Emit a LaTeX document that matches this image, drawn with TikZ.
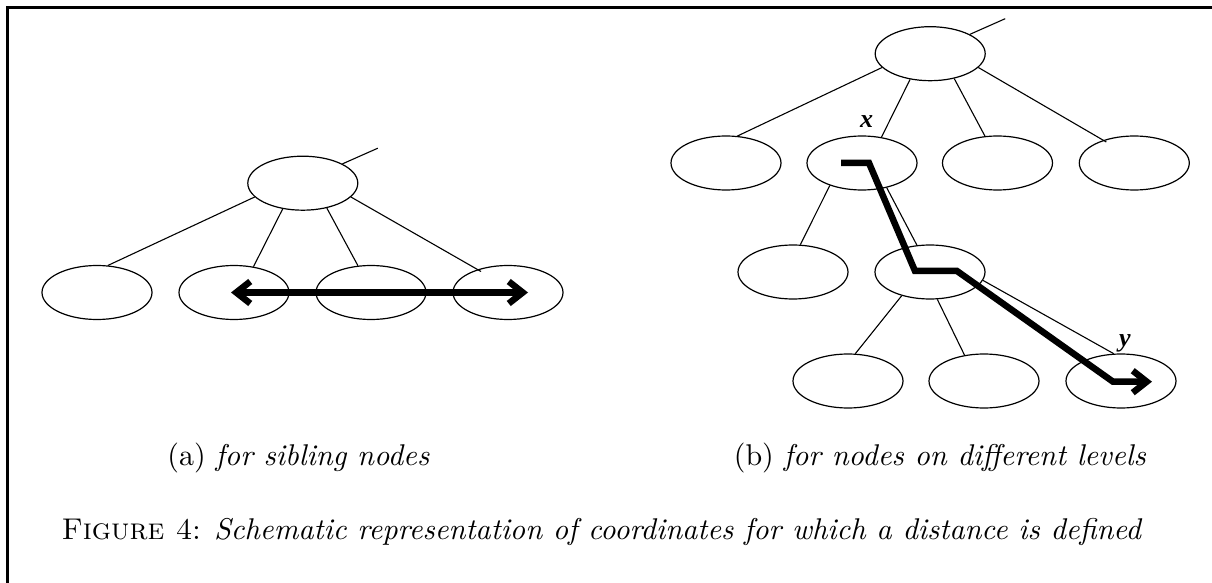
\documentclass[tikz,border=0pt]{standalone}
\usepackage{fontspec}
\newfontfamily\labelfont{Liberation Serif}
\usetikzlibrary{shapes.geometric,arrows.meta,calc}

\tikzset{
  tnode/.style={draw, ellipse, line width=0.6pt, minimum width=55pt, minimum height=27pt, inner sep=0pt},
  edge/.style={line width=0.55pt},
  route/.style={line width=3.25pt, line join=miter, line cap=butt},
  barb/.tip={Straight Barb[length=7pt, width=11pt, line cap=butt, line join=miter]},
  caption/.style={anchor=base, inner sep=0pt, font=\fontsize{10}{12}\selectfont, scale=1.5, transform shape},
  lbl/.style={anchor=base, inner sep=0pt, font=\labelfont\fontsize{13}{15}\selectfont\bfseries\itshape}
}

\begin{document}
\begin{tikzpicture}[x=0.5pt, y=-0.5pt]
\useasboundingbox (0,0) rectangle (1212,583);

% frame
\draw[line width=1.35pt] (1212,7.3) -- (7.3,7.3) -- (7.3,583);

% ---- (a) siblings ----
\node[tnode] (A0) at (302.8,183.2) {};
\node[tnode] (A1) at (97,292.5) {};
\node[tnode] (A2) at (234,292.5) {};
\node[tnode] (A3) at (371,292.5) {};
\node[tnode] (A4) at (508,292.5) {};
\coordinate (Aup) at ($(A0.center)+(75,-35)$);

\draw[edge] (A0.26.5) -- (Aup);
\draw[edge] (A0.196.4) -- (A1.68);
\draw[edge] (A0.232.5) -- (A2.53.6);
\draw[edge] (A0.314.7) -- (A3.116.5);
\draw[edge] (A0.344.3) -- ($(A4.center)+(-27,-21)$);

\draw[route, barb-barb] ($(A2.center)+(-3,0)$) -- ($(A4.center)+(20,0)$);

% ---- (b) different levels ----
\node[tnode] (B0) at (930.2,53.7) {};
\node[tnode] (B1) at (726,163) {};
\node[tnode] (B2) at (862,163) {};
\node[tnode] (B3) at (997.5,163) {};
\node[tnode] (B4) at (1134.3,163) {};
\node[tnode] (B21) at (793,272) {};
\node[tnode] (B22) at (930,272) {};
\node[tnode] (B31) at (848,381) {};
\node[tnode] (B32) at (984,381) {};
\node[tnode] (B33) at (1121,381) {};
\coordinate (Bup) at ($(B0.center)+(75,-35)$);

\draw[edge] (B0.26.5) -- (Bup);
\draw[edge] (B0.196.8) -- (B1.67.5);
\draw[edge] (B0.232.6) -- (B2.53.1);
\draw[edge] (B0.314) -- (B3.115.1);
\draw[edge] (B0.344.3) -- ($(B4.center)+(-28,-21)$);
\draw[edge] (B2.215.3) -- (B21.75.5);
\draw[edge] (B2.315.7) -- (B22.116);
\draw[edge] (B22.220.7) -- (B31.75.8);
\draw[edge] (B22.285) -- (B32.127.5);
\draw[edge] (B22.351.7) -- (B33.105.5);

\node[lbl] (lx) at (866.7,128) {x};
\node[lbl] (ly) at (1125,346) {y};

\draw[route, -barb] ($(B2.center)+(-21,0)$) -- ($(B2.center)+(7,0)$)
  -- ($(B22.center)+(-15,-1)$) -- ($(B22.center)+(27,-1)$)
  -- ($(B33.center)+(-8,0.7)$) -- ($(B33.center)+(31,0.7)$);

% ---- captions ----
\node[caption] (capa) at (298.5,465) {(a) \textit{for sibling nodes}};
\node[caption] (capb) at (940,465) {(b) \textit{for nodes on different levels}};
\node[caption] (fig) at (602,539) {\textsc{Figure 4}: \textit{Schematic representation of coordinates for which a distance is defined}};
\end{tikzpicture}
\end{document}
